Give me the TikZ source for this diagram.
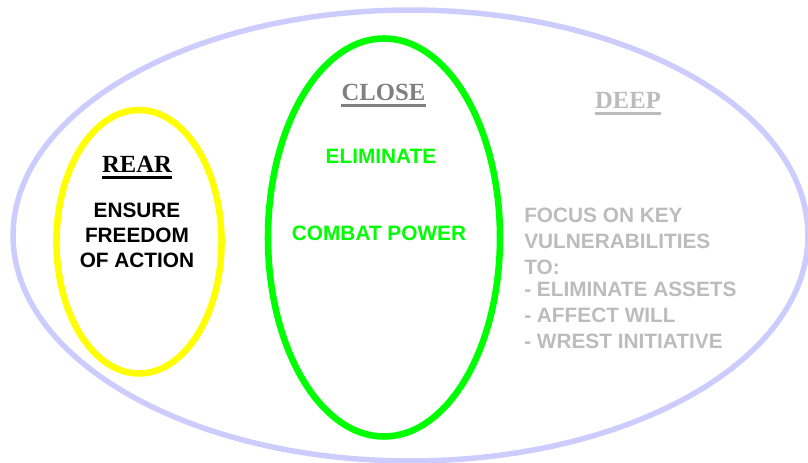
\documentclass[tikz,border=0pt]{standalone}
\usepackage{fontspec}
\setmainfont{Liberation Serif}
\setsansfont{Liberation Sans}
\definecolor{lavender}{RGB}{204,204,255}
\definecolor{rearyellow}{RGB}{255,255,0}
\definecolor{closegreen}{RGB}{0,255,0}
\definecolor{headgray}{RGB}{128,128,128}
\definecolor{deepgray}{RGB}{188,188,188}
\tikzset{
  ring/.style={line width=#1},
  heading/.style={font=\rmfamily\bfseries\fontsize{18.5}{22}\selectfont, inner sep=0pt, anchor=base},
  body/.style={font=\sffamily\bfseries\fontsize{15.6}{18}\selectfont, inner sep=0pt, anchor=base},
  leftbody/.style={body, anchor=base west},
  uline/.style={line width=2.2pt}
}
\begin{document}
\begin{tikzpicture}[x=0.75pt,y=-0.75pt]
\useasboundingbox (0,0) rectangle (808,463);
\clip (0,0) rectangle (808,463);
% battlespace zones
\draw[ring=4.1pt, lavender] (410.5,235.5) ellipse [x radius=298.1pt, y radius=169.1pt];
\draw[ring=4.9pt, rearyellow] (139,241.75) ellipse [x radius=61.9pt, y radius=98.8pt];
\draw[ring=4.9pt, closegreen] (384,237.5) ellipse [x radius=87pt, y radius=149.25pt];

% rear area
\node[heading, text=black] (rear) at (137,173) {REAR};
\draw[uline, black] ([yshift=-3.4pt]rear.base west) -- ([yshift=-3.4pt]rear.base east);
\node[body, text=black] (rear1) at (137,218) {ENSURE};
\node[body, text=black] (rear2) at (137,243) {FREEDOM};
\node[body, text=black] (rear3) at (137,268) {OF ACTION};

% close area
\node[heading, text=headgray] (close) at (383.5,101) {CLOSE};
\draw[uline, headgray] ([yshift=-3.4pt]close.base west) -- ([yshift=-3.4pt]close.base east);
\node[body, text=closegreen] (close1) at (381,164) {ELIMINATE};
\node[body, text=closegreen] (close2) at (379,241) {COMBAT POWER};

% deep area
\node[heading, text=deepgray] (deep) at (628,109) {DEEP};
\draw[uline, deepgray] ([yshift=-3.4pt]deep.base west) -- ([yshift=-3.4pt]deep.base east);
\node[leftbody, text=deepgray] (deep1) at (524,222.7) {FOCUS ON KEY};
\node[leftbody, text=deepgray] (deep2) at (524,249) {VULNERABILITIES};
\node[leftbody, text=deepgray] (deep3) at (524,275) {TO:};
\node[leftbody, text=deepgray] (deep4) at (524,296.7) {- ELIMINATE ASSETS};
\node[leftbody, text=deepgray] (deep5) at (524,322.7) {- AFFECT WILL};
\node[leftbody, text=deepgray] (deep6) at (524,349) {- WREST INITIATIVE};
\end{tikzpicture}
\end{document}
